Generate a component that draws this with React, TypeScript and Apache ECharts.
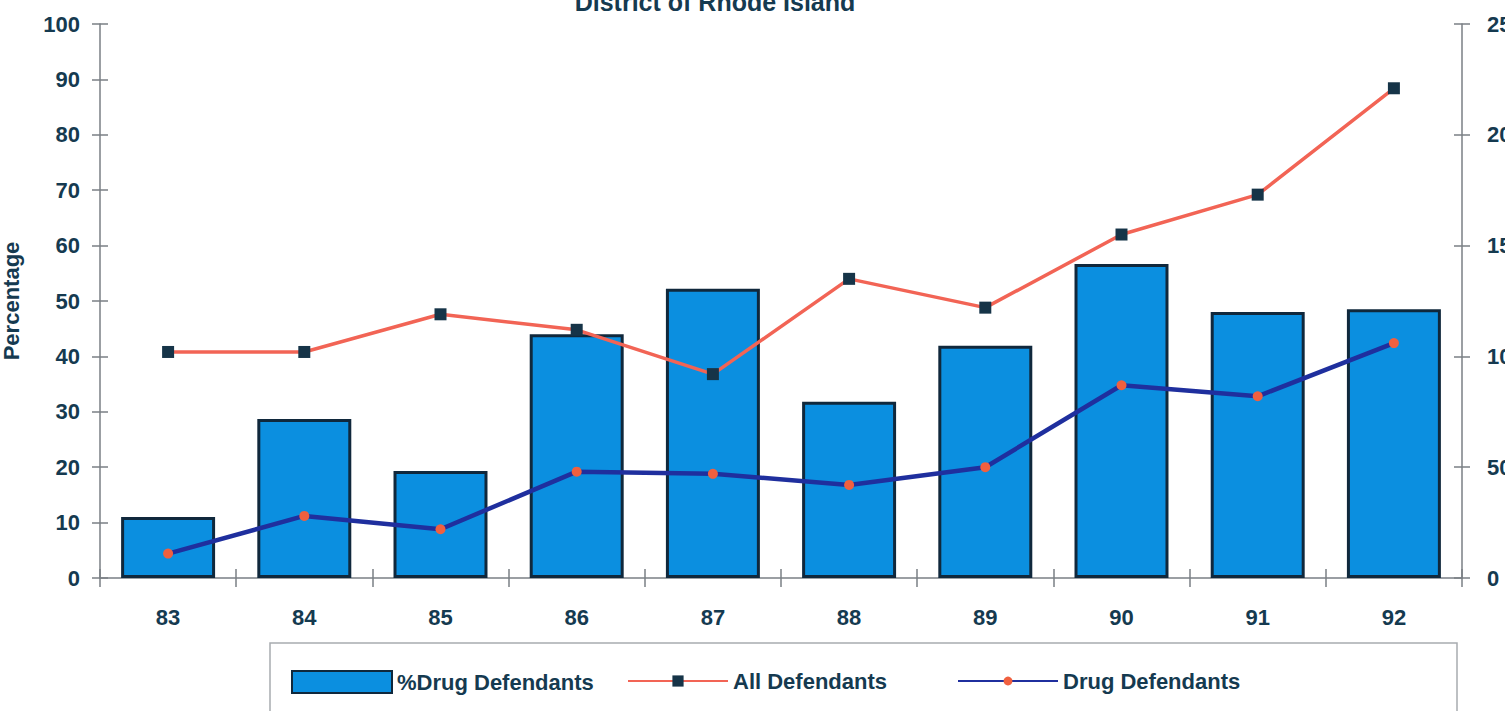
import React, { useEffect, useRef } from "react";
import * as echarts from "echarts";

// Fiscal years shown along the category axis
const years = ["83", "84", "85", "86", "87", "88", "89", "90", "91", "92"];

// Share of defendants charged with drug offences (left axis, percent)
const pctDrugDefendants = [11.0, 28.7, 19.3, 44.0, 52.2, 31.8, 41.9, 56.7, 48.0, 48.5];

// Defendant counts (right axis)
const allDefendants = [102, 102, 119, 112, 92, 135, 122, 155, 173, 221];
const drugDefendants = [11, 28, 22, 48, 47, 42, 50, 87, 82, 106];

const FONT = "'Liberation Sans', Arial, sans-serif";
const INK = "#153a50";
const AXIS_GRAY = "#7a7f85";

export default function App() {
  const ref = useRef<HTMLDivElement>(null);

  useEffect(() => {
    if (!ref.current) return;
    const chart = echarts.init(ref.current, null, { renderer: "svg" });

    const labelStyle = {
      color: INK,
      fontFamily: FONT,
      fontWeight: "bold" as const,
      fontSize: 22,
    };
    const legendText = { ...labelStyle, fontSize: 22 };

    chart.setOption({
      animation: false,
      backgroundColor: "#ffffff",
      title: {
        text: "District of Rhode Island",
        left: 710,
        textAlign: "center",
        top: -16,
        textStyle: {
          color: INK,
          fontFamily: FONT,
          fontWeight: "bold",
          fontSize: 25,
        },
      },
      grid: {
        left: 100,
        right: 98,
        top: 24,
        bottom: 133,
        outerBoundsMode: "none",
      },
      legend: [
        {
          data: [{ name: "%Drug Defendants", icon: "rect" }],
          left: 286,
          top: 665,
          itemWidth: 100,
          itemHeight: 22,
          itemGap: 8,
          textStyle: legendText,
        },
        {
          data: ["All Defendants"],
          left: 622,
          top: 665,
          itemWidth: 100,
          itemHeight: 14,
          textStyle: legendText,
        },
        {
          data: ["Drug Defendants"],
          left: 952,
          top: 665,
          itemWidth: 100,
          itemHeight: 11,
          textStyle: legendText,
        },
      ],
      graphic: [
        {
          type: "rect",
          shape: { x: 270, y: 643, width: 1187, height: 90 },
          style: { fill: "none", stroke: "#a8acb0", lineWidth: 1.5 },
          silent: true,
        },
      ],
      xAxis: [
        {
          type: "category",
          data: years,
          position: "bottom",
          axisLine: { lineStyle: { color: AXIS_GRAY, width: 1.5 } },
          axisTick: { show: true, length: 9, lineStyle: { color: AXIS_GRAY, width: 1.5 } },
          axisLabel: { ...labelStyle, margin: 28 },
        },
        {
          type: "category",
          data: years,
          position: "bottom",
          axisLine: { show: false },
          axisTick: { show: true, inside: true, length: 9, lineStyle: { color: AXIS_GRAY, width: 1.5 } },
          axisLabel: { show: false },
        },
      ],
      yAxis: [
        {
          type: "value",
          position: "left",
          min: 0,
          max: 100,
          interval: 10,
          name: "Percentage",
          nameLocation: "middle",
          nameRotate: 90,
          nameGap: 78,
          nameTextStyle: { color: INK, fontFamily: FONT, fontWeight: "bold", fontSize: 22 },
          axisLine: { show: true, lineStyle: { color: AXIS_GRAY, width: 1.5 } },
          axisTick: { show: true, length: 8, lineStyle: { color: AXIS_GRAY, width: 1.5 } },
          axisLabel: { ...labelStyle, margin: 20 },
          splitLine: { show: false },
        },
        {
          type: "value",
          position: "right",
          min: 0,
          max: 250,
          interval: 50,
          axisLine: { show: true, lineStyle: { color: AXIS_GRAY, width: 1.5 } },
          axisTick: { show: true, length: 8, lineStyle: { color: AXIS_GRAY, width: 1.5 } },
          axisLabel: { ...labelStyle, margin: 25 },
          splitLine: { show: false },
        },
        {
          type: "value",
          position: "left",
          min: 0,
          max: 100,
          interval: 10,
          axisLine: { show: false },
          axisTick: { show: true, inside: true, length: 8, lineStyle: { color: AXIS_GRAY, width: 1.5 } },
          axisLabel: { show: false },
          splitLine: { show: false },
        },
        {
          type: "value",
          position: "right",
          min: 0,
          max: 250,
          interval: 50,
          axisLine: { show: false },
          axisTick: { show: true, inside: true, length: 8, lineStyle: { color: AXIS_GRAY, width: 1.5 } },
          axisLabel: { show: false },
          splitLine: { show: false },
        },
      ],
      series: [
        {
          name: "%Drug Defendants",
          type: "bar",
          xAxisIndex: 0,
          yAxisIndex: 0,
          data: pctDrugDefendants,
          barWidth: "69%",
          itemStyle: {
            color: "#0b8fe0",
            borderColor: "#10283c",
            borderWidth: 3,
          },
        },
        {
          name: "All Defendants",
          type: "line",
          xAxisIndex: 0,
          yAxisIndex: 1,
          data: allDefendants,
          symbol: "rect",
          symbolSize: 12,
          lineStyle: { color: "#f26455", width: 3.5 },
          itemStyle: { color: "#163448" },
        },
        {
          name: "Drug Defendants",
          type: "line",
          xAxisIndex: 0,
          yAxisIndex: 1,
          data: drugDefendants,
          symbol: "circle",
          symbolSize: 10,
          lineStyle: { color: "#1f2f9e", width: 4.5 },
          itemStyle: { color: "#f0603f" },
        },
      ],
    });

    return () => chart.dispose();
  }, []);

  return (
    <div
      style={{
        position: "fixed",
        left: 0,
        top: 0,
        width: 1505,
        height: 711,
        overflow: "hidden",
        background: "#ffffff",
      }}
    >
      <div ref={ref} style={{ position: "absolute", left: 0, top: 0, width: 1560, height: 711 }} />
    </div>
  );
}
